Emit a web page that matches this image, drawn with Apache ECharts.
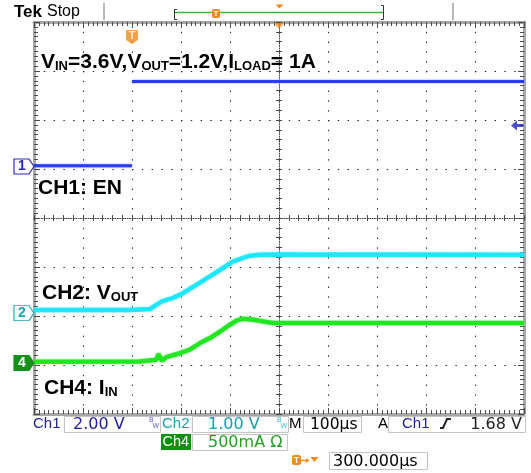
<!DOCTYPE html>
<html>
<head>
<meta charset="utf-8">
<script src="https://cdn.jsdelivr.net/npm/echarts@6/dist/echarts.min.js"></script>
<style>
  html, body { margin: 0; padding: 0; background: #ffffff; }
  #scope { width: 531px; height: 473px; }
</style>
</head>
<body>
<div id="scope"></div>
<script>
// ---- Acquisition data (time in µs, relative to the trigger) ----
const timeMin = -200;
const timeMax = 800;
const timePerDiv = 100;
const triggerDelay = 300;       // horizontal position readout
const triggerLevel = 1.68;      // V on CH1

// CH1: EN (V)
const enTime  = [-200, 0, 0, 0, 800];
const enVolts = [0.03, 0.03, null, 3.47, 3.47];

// CH2: VOUT (V)
const voutTime  = [-200, -4, 37, 61, 84, 105, 132, 159, 186, 207, 227, 241, 262, 282, 800];
const voutVolts = [0.06, 0.06, 0.085, 0.24, 0.31, 0.41, 0.58, 0.75, 0.92, 1.055, 1.125, 1.17, 1.19, 1.195, 1.19];

// CH4: IIN (A)
const iinTime = [-200, 16, 50, 54, 61, 70, 98, 118, 139, 159, 180, 200, 214, 227, 248, 268, 288, 316, 800];
const iinAmps = [0.013, 0.016, 0.034, 0.092, 0.023, 0.06, 0.10, 0.136, 0.204, 0.255, 0.322, 0.391, 0.435, 0.452, 0.442, 0.424, 0.408, 0.408, 0.408];

// Vertical settings: units per division and ground-marker position in divisions
const voltsPerDiv  = [2.0, 1.0, 0.5];      // CH1, CH2, CH4
const groundPosDiv = [1.05, -1.94, -2.96]; // CH1, CH2, CH4

// ---- Layout ----
const GL = 34, GT = 22, GW = 490, GH = 392;
const SANS = '"Liberation Sans", Arial, sans-serif';
const WIDE = '"DejaVu Sans", sans-serif';
const TICK = '#4a4a4a';
const DOTS = { color: '#1e1e1e', width: 1, type: [1.4, 8.4] };

function pairs(xs, ys) {
  return xs.map((t, i) => [t, ys[i] === null ? '-' : ys[i]]);
}

function borderX(pos, withGrid) {
  return {
    type: 'value', position: pos, min: timeMin, max: timeMax, interval: timePerDiv,
    axisLine: { show: true, onZero: false, lineStyle: { color: '#a6a6a6', width: 3 } },
    axisTick: { show: true, inside: true, length: 6, lineStyle: { color: TICK } },
    minorTick: { show: true, splitNumber: 10, length: 4, lineStyle: { color: TICK } },
    axisLabel: { show: false },
    splitLine: { show: withGrid, lineStyle: DOTS }
  };
}
function borderY(pos, withGrid) {
  return {
    type: 'value', position: pos, min: -4, max: 4, interval: 1,
    axisLine: { show: true, onZero: false, lineStyle: { color: '#a6a6a6', width: 3 } },
    axisTick: { show: true, inside: true, length: 6, lineStyle: { color: TICK } },
    minorTick: { show: true, splitNumber: 10, length: 4, lineStyle: { color: TICK } },
    axisLabel: { show: false },
    splitLine: { show: withGrid, lineStyle: DOTS }
  };
}
// Centre cross of the graticule with small crossing ticks
function centreX(up) {
  return {
    type: 'value', position: 'bottom', offset: -GH / 2, min: timeMin, max: timeMax, interval: timePerDiv,
    axisLine: { show: up, onZero: false, lineStyle: { color: '#444', width: 1, type: [1, 1.45] } },
    axisTick: { show: true, inside: up, length: 3, lineStyle: { color: TICK } },
    minorTick: { show: true, splitNumber: 5, length: 3, lineStyle: { color: TICK } },
    axisLabel: { show: false }, splitLine: { show: false }
  };
}
function centreY(right) {
  return {
    type: 'value', position: 'left', offset: -GW / 2, min: -4, max: 4, interval: 1,
    axisLine: { show: right, onZero: false, lineStyle: { color: '#444', width: 1, type: [1, 1.45] } },
    axisTick: { show: true, inside: right, length: 3, lineStyle: { color: TICK } },
    minorTick: { show: true, splitNumber: 5, length: 3, lineStyle: { color: TICK } },
    axisLabel: { show: false }, splitLine: { show: false }
  };
}
function channelAxis(i) {
  return {
    type: 'value', show: false,
    min: (-4 - groundPosDiv[i]) * voltsPerDiv[i],
    max: (4 - groundPosDiv[i]) * voltsPerDiv[i]
  };
}

function trace(name, yIdx, data, color, width, glow) {
  return {
    type: 'line', name, xAxisIndex: 0, yAxisIndex: yIdx, data,
    symbol: 'none', showSymbol: false, connectNulls: false, silent: true, z: 5,
    lineStyle: { color, width, shadowBlur: 2, shadowColor: glow }
  };
}

const PENTAGON = 'path://M0,0L15,0L20,7.5L15,15L0,15Z';
function groundMarker(yIdx, label, stroke, fill, textColor) {
  return {
    type: 'scatter', xAxisIndex: 0, yAxisIndex: yIdx, clip: false, silent: true, z: 12,
    data: [[timeMin, 0]], symbol: PENTAGON, symbolSize: [20, 15], symbolOffset: [-10, 0],
    itemStyle: { color: fill, borderColor: stroke, borderWidth: 1, opacity: 1 },
    label: { show: true, position: 'inside', formatter: label, color: textColor,
      fontFamily: SANS, fontSize: 14, fontWeight: 'bold', offset: [-2, 0] }
  };
}

// ---- Readout and annotation graphics ----
const G = [];
function txt(x, y, s, extra) {
  G.push({ type: 'text', x, y, z: 30, silent: true,
    style: Object.assign({ text: s, font: '15px ' + SANS, fill: '#000', align: 'left', verticalAlign: 'middle' }, extra || {}) });
}
function rect(x, y, w, h, fill, stroke) {
  G.push({ type: 'rect', z: 29, silent: true, shape: { x, y, width: w, height: h },
    style: { fill: fill || 'none', stroke: stroke || null, lineWidth: 1 } });
}
function poly(points, stroke, w) {
  G.push({ type: 'polyline', z: 30, silent: true, shape: { points },
    style: { stroke, lineWidth: w || 1, fill: 'none' } });
}
function polygon(points, fill) {
  G.push({ type: 'polygon', z: 30, silent: true, shape: { points }, style: { fill } });
}
function tIcon(x, y, w, h, size) {
  G.push({ type: 'rect', z: 30, silent: true, shape: { x, y, width: w, height: h, r: 2 }, style: { fill: '#f08a1c' } });
  txt(x + w / 2, y + h / 2 + 0.5, 'T', { font: 'bold ' + size + 'px ' + SANS, fill: '#fff', align: 'center' });
}
const RICH = {
  m: { font: 'bold 21px ' + SANS, fill: '#000', verticalAlign: 'bottom' },
  s: { font: 'bold 13px ' + SANS, fill: '#000', verticalAlign: 'bottom' }
};
function label(x, yBottom, s) {
  G.push({ type: 'text', x, y: yBottom, z: 30, silent: true,
    style: { text: s, rich: RICH, align: 'left', verticalAlign: 'bottom' } });
}

// status bar
txt(14, 12, 'Tek', { font: 'bold 17px ' + SANS });
txt(47, 12, 'Stop', { font: '16px ' + SANS });
poly([[104, 3], [104, 20]], '#b8b8b8', 2);
poly([[453, 3], [453, 20]], '#b8b8b8', 2);
poly([[177, 9.5], [174.5, 9.5], [174.5, 19.5], [177, 19.5]], '#333', 1);
poly([[175, 12.5], [383, 12.5]], '#3cb43c', 1.5);
poly([[381, 5.5], [383.5, 5.5], [383.5, 19.5], [381, 19.5]], '#333', 1);
tIcon(212, 9, 8, 9, 8);
polygon([[275.5, 4.5], [283.5, 4.5], [279.5, 8.5]], '#f08a1c');

// channel captions
label(41, 72.5, '{m|V}{s|IN}{m|=3.6V,V}{s|OUT}{m|=1.2V,I}{s|LOAD}{m|= 1A}');
label(38, 199, '{m|CH1: EN}');
label(42, 303.5, '{m|CH2: V}{s|OUT}');
label(44, 398.5, '{m|CH4: I}{s|IN}');

// vertical / horizontal readouts
const C1 = '#1f1f9e', C2 = '#17a0ae', C4 = '#23a023';
txt(33, 424, 'Ch1', { font: '15px ' + SANS, fill: C1 });
rect(64.5, 416.5, 96, 16, 'none', '#c4c4c4');
txt(73, 424.5, '2.00 V', { font: '16px ' + WIDE, fill: C1 });
txt(149, 420.5, 'B', { font: '7px ' + SANS, fill: '#5a5ac8' });
txt(152.5, 426, 'W', { font: '7px ' + SANS, fill: '#5a5ac8' });
txt(162, 424, 'Ch2', { font: '15px ' + SANS, fill: C2 });
rect(192.5, 416.5, 96, 16, 'none', '#c4c4c4');
txt(208, 424.5, '1.00 V', { font: '16px ' + WIDE, fill: C2 });
txt(277, 420.5, 'B', { font: '7px ' + SANS, fill: '#3ab8c8' });
txt(280.5, 426, 'W', { font: '7px ' + SANS, fill: '#3ab8c8' });
txt(289, 424, 'M', { font: '15px ' + SANS });
rect(303.5, 416.5, 58, 16, 'none', '#c4c4c4');
txt(310, 424.5, '100µs', { font: '15.5px ' + WIDE });
txt(378, 424, 'A', { font: '15px ' + SANS });
rect(388.5, 416.5, 137, 16, 'none', '#c4c4c4');
txt(402, 424, 'Ch1', { font: '15px ' + SANS, fill: C1 });
poly([[440, 428], [443, 428], [447, 419], [451, 419]], '#222', 2);
txt(522, 424.5, '1.68 V', { font: '16px ' + WIDE, fill: '#222', align: 'right' });

rect(161, 434, 30, 16, '#0e8f0e');
txt(162.5, 442, 'Ch4', { font: '14.5px ' + SANS, fill: '#fff' });
rect(192.5, 434.5, 95, 16, 'none', '#c4c4c4');
txt(208, 442.5, '500mA Ω', { font: '16px ' + WIDE, fill: C4 });

tIcon(292, 455, 9, 10, 9);
poly([[301, 460.5], [307.5, 460.5]], '#f08a1c', 1.5);
polygon([[306, 458], [309.5, 460.5], [306, 463]], '#f08a1c');
polygon([[310.5, 457], [318.5, 457], [314.5, 462]], '#f08a1c');
rect(329.5, 452.5, 98, 17, 'none', '#c4c4c4');
txt(333, 461.5, triggerDelay.toFixed(3) + 'µs', { font: '16px ' + WIDE });

const option = {
  animation: false,
  backgroundColor: '#ffffff',
  grid: { left: GL, top: GT, width: GW, height: GH, containLabel: false },
  xAxis: [borderX('bottom', true), borderX('top', false), centreX(true), centreX(false)],
  yAxis: [borderY('left', true), borderY('right', false), centreY(true), centreY(false),
          channelAxis(0), channelAxis(1), channelAxis(2)],
  series: [
    trace('CH2', 5, pairs(voutTime, voutVolts), '#1fe6fb', 4.5, 'rgba(120,240,255,0.9)'),
    trace('CH4', 6, pairs(iinTime, iinAmps), '#22e622', 4.5, 'rgba(120,245,120,0.9)'),
    trace('CH1', 4, pairs(enTime, enVolts), '#2a3cf0', 3, 'rgba(110,125,255,0.9)'),
    groundMarker(4, '1', '#2a2ab4', '#ffffff', '#2a2ab4'),
    groundMarker(5, '2', '#1aa5b3', '#ffffff', '#1aa5b3'),
    groundMarker(6, '4', '#15911a', '#15911a', '#ffffff'),
    { // trigger point marker
      type: 'scatter', xAxisIndex: 0, yAxisIndex: 0, clip: false, silent: true, z: 12,
      data: [[0, 4]], symbol: 'path://M1,0L11,0Q12,0 12,1L12,10L6,14L0,10L0,1Q0,0 1,0Z',
      symbolSize: [12, 14], symbolOffset: [0, 15], itemStyle: { color: '#f08a1c' },
      label: { show: true, position: 'inside', formatter: 'T', color: '#fff',
        fontFamily: SANS, fontSize: 11, fontWeight: 'bold', offset: [0, -1] }
    },
    { // horizontal position reference
      type: 'scatter', xAxisIndex: 0, yAxisIndex: 0, clip: false, silent: true, z: 12,
      data: [[triggerDelay, 4]], symbol: 'path://M0,0L10,0L5,6Z',
      symbolSize: [10, 6], symbolOffset: [0, 4], itemStyle: { color: '#f08a1c' }
    },
    { // trigger level on CH1
      type: 'scatter', xAxisIndex: 0, yAxisIndex: 4, clip: false, silent: true, z: 12,
      data: [[timeMax, triggerLevel]], symbol: 'path://M0,5L6,0L6,3.5L12,3.5L12,6.5L6,6.5L6,10Z',
      symbolSize: [12, 10], symbolOffset: [-7, 0], itemStyle: { color: '#1a22c8' }
    }
  ],
  graphic: G
};

const chart = echarts.init(document.getElementById('scope'), null, { renderer: 'canvas' });
chart.setOption(option);
</script>
</body>
</html>
